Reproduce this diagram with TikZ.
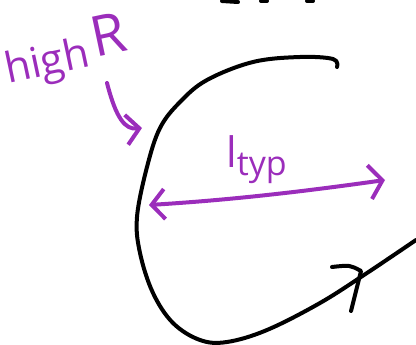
\documentclass[tikz,border=0pt]{standalone}
\usepackage{fontspec}
\usepackage{tikz}
\usetikzlibrary{arrows.meta,positioning}
\newfontfamily\handfont{Open Sans}
\definecolor{inkblack}{HTML}{000000}
\definecolor{penpurple}{HTML}{9B2DBB}

\begin{document}
\begin{tikzpicture}[x=1pt, y=-1pt,
    ink/.style={draw=inkblack, line width=4pt, line cap=round, line join=round},
    pen/.style={draw=penpurple, line width=4pt, line cap=round, line join=round},
    barb/.style={-{Straight Barb[length=13pt, width=30pt]}},
    scribble/.style={text=penpurple, font=\handfont\fontsize{42}{42}\selectfont, inner sep=0pt}
]
\useasboundingbox (0,0) rectangle (416,345);

% labels
\node[scribble, rotate=12, anchor=base west] (highR) at (8,84) {high\hspace{6pt}\raisebox{8pt}{\fontsize{56}{56}\selectfont R}};
\node[scribble, anchor=base west] (ltyp) at (226,168) {l\raisebox{-7pt}{\fontsize{34}{34}\selectfont typ}};

% boundary curve
\draw[ink] plot[smooth, tension=0.6] coordinates {(337,67) (333,59) (300,57) (253,62) (207,80) (180,102) (160,128) (147,167) (137,217) (140,253) (153,293) (173,323) (200,340) (227,342) (267,330) (320,303) (367,273) (416,240)};
\coordinate (tip) at (361,271);
\draw[ink] (332,267) .. controls (350,265) .. (tip) -- (351,311);

% cut-off marks at top
\draw[ink] (222,1) -- (238,2);
\draw[ink] (261,1) -- (267,1);
\draw[ink] (307,1) -- (313,1);

% arrows
\coordinate (wall) at (142,128);
\draw[pen, barb] (107,83) .. controls (116,118) and (125,130) .. (wall);
\coordinate (left) at (149,205);
\coordinate (right) at (385,180);
\draw[pen, {Straight Barb[length=13pt, width=30pt]}-{Straight Barb[length=13pt, width=34pt]}] (left) .. controls (230,200) and (300,192) .. (right);

\end{tikzpicture}
\end{document}
